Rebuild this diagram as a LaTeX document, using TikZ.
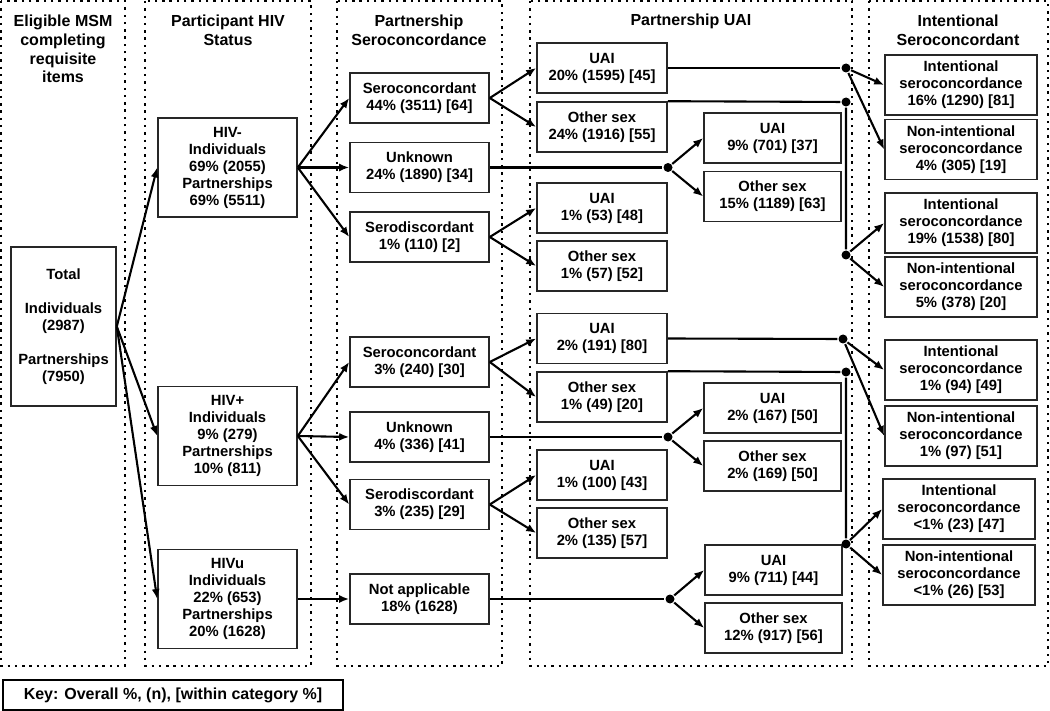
\documentclass[tikz,border=0pt]{standalone}
\usepackage{fontspec}
\setmainfont{Liberation Sans}
\usetikzlibrary{arrows.meta}

\begin{document}
\begin{tikzpicture}[x=1pt,y=-1pt,line width=2.1pt,>={Latex[length=10pt,width=8pt]}]
	\tikzstyle{col}=[line width=2.6pt,dash pattern=on 2.4pt off 4.9pt]
	\tikzstyle{head}=[font=\fontsize{16}{18.7}\selectfont\bfseries,align=center,inner sep=0pt]
	\tikzstyle{unit}=[draw=black!85,line width=1.6pt,font=\fontsize{14.8}{17}\selectfont\bfseries,align=center,inner sep=0pt]
	\tikzstyle{hiv}=[unit,minimum width=139pt,minimum height=99pt]
	\tikzstyle{sero}=[unit,minimum width=139pt,minimum height=50pt]
	\tikzstyle{uai}=[unit,minimum width=130pt,minimum height=50pt]
	\tikzstyle{uaib}=[unit,minimum width=137pt,minimum height=50pt]
	\tikzstyle{intent}=[unit,minimum width=152pt,minimum height=60pt]
	\tikzstyle{dot}=[fill,circle,inner sep=0pt,minimum size=9pt]

	\useasboundingbox (0,0) rectangle (1050,711);

	\draw[col] (1,1) rectangle (125,666);
	\draw[col] (145,1) rectangle (311,666);
	\draw[col] (337,1) rectangle (502,666);
	\draw[col] (530,1) rectangle (852,666);
	\draw[col] (869,1) rectangle (1048,666);

	\node[head](h1) at (63,49){Eligible MSM\\completing\\requisite\\items};
	\node[head](h2) at (228,30){Participant HIV\\Status};
	\node[head](h3) at (419,30){Partnership\\Seroconcordance};
	\node[head](h4) at (691,21){Partnership UAI};
	\node[head](h5) at (958,30){Intentional\\Seroconcordant};

	\node[unit,minimum width=105pt,minimum height=159pt](tot) at (63.5,326.5){Total\\[17pt]Individuals\\(2987)\\[17pt]Partnerships\\(7950)};

	\node[hiv](neg) at (227.5,167.5){HIV-\\Individuals\\69\% (2055)\\Partnerships\\69\% (5511)};
	\node[hiv](pos) at (227.5,436){HIV+\\Individuals\\9\% (279)\\Partnerships\\10\% (811)};
	\node[hiv](unk) at (227.5,599){HIVu\\Individuals\\22\% (653)\\Partnerships\\20\% (1628)};

	\node[sero](negconc) at (419.5,98){Seroconcordant\\44\% (3511) [64]};
	\node[sero](negunk) at (419.5,167.5){Unknown\\24\% (1890) [34]};
	\node[sero](negdisc) at (419.5,237){Serodiscordant\\1\% (110) [2]};
	\node[sero](posconc) at (419.5,362){Seroconcordant\\3\% (240) [30]};
	\node[sero](posunk) at (419.5,437){Unknown\\4\% (336) [41]};
	\node[sero](posdisc) at (419.5,504.5){Serodiscordant\\3\% (235) [29]};
	\node[sero](unkna) at (419.5,599){Not applicable\\18\% (1628)};

	\node[uai](negconcuai) at (602,68){UAI\\20\% (1595) [45]};
	\node[uai](negconcoth) at (602,127){Other sex\\24\% (1916) [55]};
	\node[uaib](negunkuai) at (772.5,138){UAI\\9\% (701) [37]};
	\node[uaib](negunkoth) at (772.5,196.5){Other sex\\15\% (1189) [63]};
	\node[uai](negdiscuai) at (602,208){UAI\\1\% (53) [48]};
	\node[uai](negdiscoth) at (602,266){Other sex\\1\% (57) [52]};
	\node[uai](posconcuai) at (602,338.5){UAI\\2\% (191) [80]};
	\node[uai](posconcoth) at (602,397){Other sex\\1\% (49) [20]};
	\node[uaib](posunkuai) at (772.5,408){UAI\\2\% (167) [50]};
	\node[uaib](posunkoth) at (772.5,466){Other sex\\2\% (169) [50]};
	\node[uai](posdiscuai) at (602,475){UAI\\1\% (100) [43]};
	\node[uai](posdiscoth) at (602,533){Other sex\\2\% (135) [57]};
	\node[uaib](unknauai) at (773.5,570){UAI\\9\% (711) [44]};
	\node[uaib](unknaoth) at (773.5,628){Other sex\\12\% (917) [56]};

	\node[intent](int1) at (961,85){Intentional\\seroconcordance\\16\% (1290) [81]};
	\node[intent](non1) at (961,149.5){Non-intentional\\seroconcordance\\4\% (305) [19]};
	\node[intent](int2) at (961,223){Intentional\\seroconcordance\\19\% (1538) [80]};
	\node[intent](non2) at (961,287){Non-intentional\\seroconcordance\\5\% (378) [20]};
	\node[intent](int3) at (961,370){Intentional\\seroconcordance\\1\% (94) [49]};
	\node[intent](non3) at (961,436){Non-intentional\\seroconcordance\\1\% (97) [51]};
	\node[intent](int4) at (959,509){Intentional\\seroconcordance\\<1\% (23) [47]};
	\node[intent](non4) at (959,575){Non-intentional\\seroconcordance\\<1\% (26) [53]};

	\node[dot](j1) at (846,68){};
	\node[dot](j2a) at (846,102){};
	\node[dot](j2) at (846,255){};
	\node[dot](j3) at (668,167.5){};
	\node[dot](j4) at (843,339){};
	\node[dot](j5a) at (846,372){};
	\node[dot](j5) at (846,544){};
	\node[dot](j6) at (668,437){};
	\node[dot](j7) at (670,599){};

	\draw[->] (tot.east) -- (neg.west);
	\draw[->] (tot.east) -- (pos.west);
	\draw[->] (tot.east) -- (unk.west);

	\draw[->] (neg.east) -- (negconc.west);
	\draw[->] (neg.east) -- (negunk.west);
	\draw[->] (neg.east) -- (negdisc.west);
	\draw[->] (pos.east) -- (posconc.west);
	\draw[->] (pos.east) -- (posunk.west);
	\draw[->] (pos.east) -- (posdisc.west);
	\draw[->] (unk.east) -- (unkna.west);

	\draw[->] (negconc.east) -- (negconcuai.west);
	\draw[->] (negconc.east) -- (negconcoth.west);
	\draw[->] (negdisc.east) -- (negdiscuai.west);
	\draw[->] (negdisc.east) -- (negdiscoth.west);
	\draw[->] (posconc.east) -- (posconcuai.west);
	\draw[->] (posconc.east) -- (posconcoth.west);
	\draw[->] (posdisc.east) -- (posdiscuai.west);
	\draw[->] (posdisc.east) -- (posdiscoth.west);

	\draw (negunk.east) -- (j3);
	\draw[->] (j3) -- (negunkuai.west);
	\draw[->] (j3) -- (negunkoth.west);
	\draw (posunk.east) -- (j6);
	\draw[->] (j6) -- (posunkuai.west);
	\draw[->] (j6) -- (posunkoth.west);
	\draw (unkna.east) -- (j7);
	\draw[->] (j7) -- (unknauai.west);
	\draw[->] (j7) -- (unknaoth.west);

	\draw (negconcuai.east) -- (j1);
	\draw[->] (j1) -- (int1.west);
	\draw[->] (j1) -- (non1.west);
	\draw (negconcoth.north east) -- (j2a) -- (j2);
	\draw[->] (j2) -- (int2.west);
	\draw[->] (j2) -- (non2.west);
	\draw (posconcuai.east) -- (j4);
	\draw[->] (j4) -- (int3.west);
	\draw[->] (j4) -- (non3.west);
	\draw (posconcoth.north east) -- (j5a) -- (j5);
	\draw[->] (j5) -- (int4.west);
	\draw[->] (j5) -- (non4.west);

	\node[draw,line width=2.8pt,font=\fontsize{16}{18}\selectfont\bfseries,minimum width=340pt,minimum height=30pt,inner sep=0pt](key) at (173,695){Key: Overall \%, (n), [within category \%]};
\end{tikzpicture}
\end{document}
